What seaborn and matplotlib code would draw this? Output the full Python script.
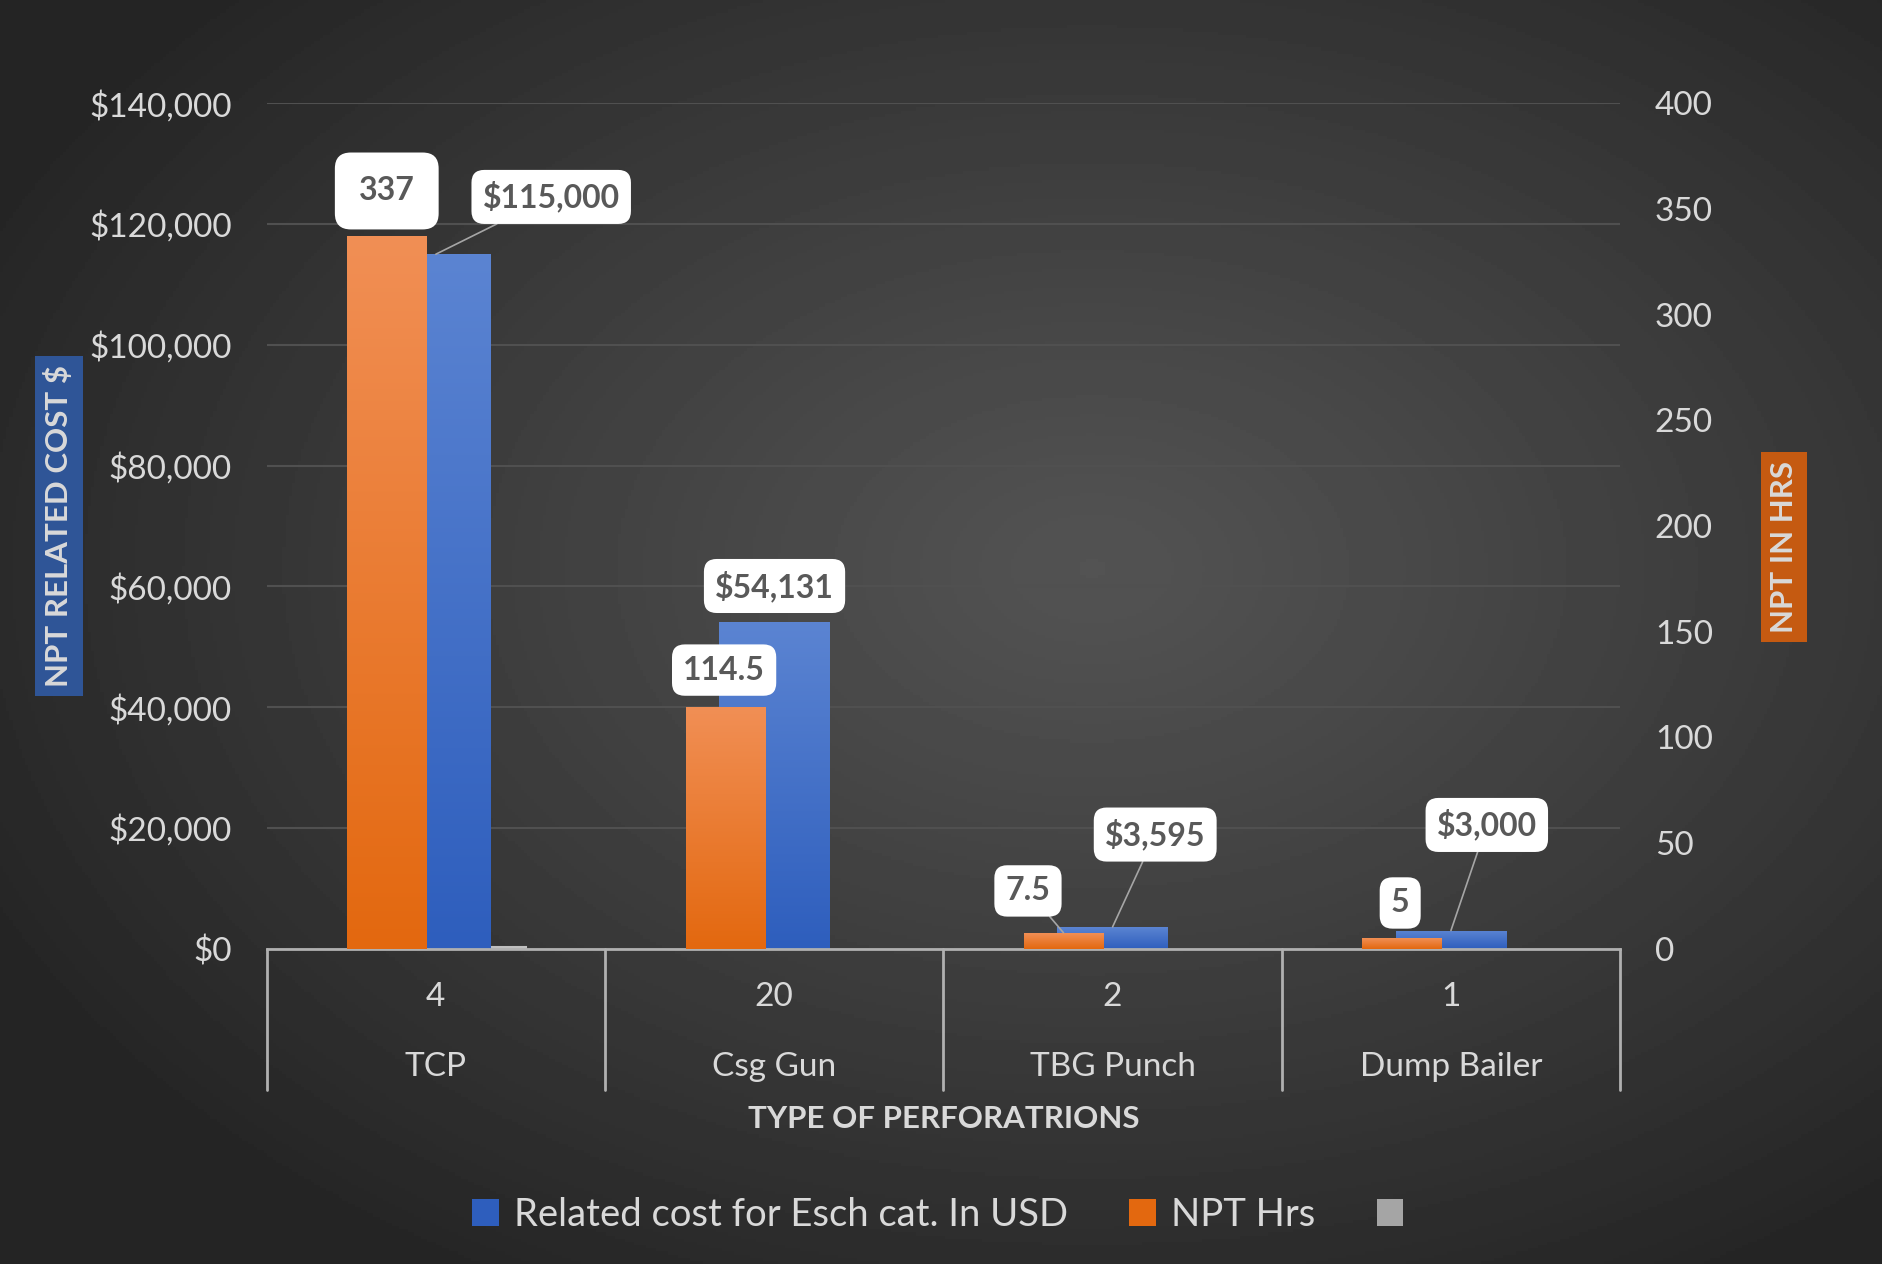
import numpy as np
import matplotlib
matplotlib.use("Agg")
import matplotlib.pyplot as plt
import matplotlib.transforms as mtransforms
from matplotlib.colors import LinearSegmentedColormap
from matplotlib.patches import Patch
import seaborn as sns

# data
categories = ["TCP", "Csg Gun", "TBG Punch", "Dump Bailer"]
counts = ["4", "20", "2", "1"]
cost_usd = [115000, 54131, 3595, 3000]
npt_hrs = [337, 114.5, 7.5, 5]
third_vals = [300, 0, 0, 0]

cost_ticks = list(range(0, 140001, 20000))
hrs_ticks = list(range(0, 401, 50))

# label placement (x in category units, y in the series' own units)
hrs_label_xy = [(-0.145, 358.5), (0.852, 131.8), (1.75, 27.3), (2.85, 21.6)]
cost_label_xy = [(0.341, 124489), (1.001, 60057), (2.126, 18892), (3.106, 20483)]
hrs_leader = [False, False, True, False]
cost_leader = [True, False, True, True]

BLUE_TOP, BLUE_BOT = "#5b84d2", "#2e5ebd"
ORG_TOP, ORG_BOT = "#f18f55", "#e3680f"
GRAY = "#a5a5a5"
TXT = "#d9d9d9"

sns.set_theme(style="dark")
plt.rcParams["font.family"] = ["Lato", "DejaVu Sans"]

fig = plt.figure(figsize=(18.83, 12.64), dpi=100)

# radial background
bg = fig.add_axes([0, 0, 1, 1], zorder=-10)
yy, xx = np.mgrid[0:1:400j, 0:1:600j]
d = np.sqrt(((xx - 0.58) / 0.65) ** 2 + ((yy - 0.45) / 0.65) ** 2)
val = 0x53 - (0x53 - 0x25) * np.clip(d, 0, 1) ** 1.1
bg.imshow(val, cmap="gray", vmin=0, vmax=255, extent=(0, 1, 0, 1), aspect="auto", origin="upper")
bg.axis("off")

ax = fig.add_axes([0.1416, 0.2495, 0.7188, 0.6688])
ax.patch.set_alpha(0)


def fill_gradient(a, bar, top, bottom):
    x0, y0 = bar.get_x(), bar.get_y()
    w, h = bar.get_width(), bar.get_height()
    if h <= 0:
        return
    cmap = LinearSegmentedColormap.from_list("g", [bottom, top])
    grad = np.linspace(0, 1, 256).reshape(-1, 1)
    im = a.imshow(grad, cmap=cmap, extent=(x0, x0 + w, y0, y0 + h), origin="lower",
                  aspect="auto", zorder=bar.get_zorder() + 0.1)
    im.set_clip_path(bar)


# third (grey) series behind
sns.barplot(x=categories, y=third_vals, ax=ax, width=0.234, color=GRAY, linewidth=0, zorder=1)
gray_bars = list(ax.patches)
for p in gray_bars:
    p.set_x(p.get_x() + 0.149)
    p.set_edgecolor("#bfbfbf")
    p.set_linewidth(1.5 if p.get_height() > 0 else 0)

sns.barplot(x=categories, y=cost_usd, ax=ax, width=0.327, color=BLUE_BOT, linewidth=0, zorder=2)
blue_bars = [p for p in ax.patches if p not in gray_bars]
for p in blue_bars:
    fill_gradient(ax, p, BLUE_TOP, BLUE_BOT)

ax2 = ax.twinx()
sns.barplot(x=categories, y=npt_hrs, ax=ax2, width=0.234, color=ORG_BOT, linewidth=0, zorder=2)
orange_bars = list(ax2.patches)
for p in orange_bars:
    p.set_x(p.get_x() - 0.145)
    fill_gradient(ax2, p, ORG_TOP, ORG_BOT)

ax.set_xlim(-0.5, 3.5)
ax.set_ylim(0, 140000)
ax2.set_ylim(0, 400)
ax.set_yticks(cost_ticks)
ax.set_yticklabels([f"${v:,.0f}" for v in cost_ticks])
ax2.set_yticks(hrs_ticks)
ax2.set_yticklabels([str(v) for v in hrs_ticks])
ax.set_xlabel("")
ax.set_ylabel("")
ax2.set_ylabel("")
ax.tick_params(axis="x", length=0, labelbottom=False)
ax.tick_params(axis="y", length=0, labelsize=24, labelcolor=TXT, pad=25)
ax2.tick_params(axis="y", length=0, labelsize=24, labelcolor=TXT, pad=25)
ax.grid(axis="y", color="#505050", lw=1.5)
ax.grid(axis="x", visible=False)
ax2.grid(False)
ax.set_axisbelow(True)
for a in (ax, ax2):
    for s in a.spines.values():
        s.set_visible(False)
ax.spines["bottom"].set_visible(True)
ax.spines["bottom"].set_color("#b0b0b0")
ax.spines["bottom"].set_linewidth(2)
ax.spines["bottom"].set_zorder(5)

# multi-level category axis
trans = mtransforms.blended_transform_factory(ax.transData, ax.transAxes)
for b in np.arange(-0.5, len(categories), 1.0):
    ax.plot([b, b], [0, -0.1676], transform=trans, color="#b0b0b0", lw=2, clip_on=False)
for i, (c, n) in enumerate(zip(categories, counts)):
    ax.text(i, -0.0568, n, transform=trans, ha="center", va="center", fontsize=24, color=TXT)
    ax.text(i, -0.1406, c, transform=trans, ha="center", va="center", fontsize=24, color=TXT)
ax.text(1.5, -0.2017, "TYPE OF PERFORATRIONS", transform=trans, ha="center", va="center",
        fontsize=22.5, fontweight="bold", color=TXT)

# axis titles in coloured boxes
fig.text(59 / 1883, 1 - 526 / 1264, "NPT RELATED COST $", rotation=90, ha="center", va="center",
         fontsize=22.5, fontweight="bold", color=TXT,
         bbox=dict(boxstyle="square,pad=0.3", fc="#2f5597", ec="none"))
fig.text(1784 / 1883, 1 - 547 / 1264, "NPT IN HRS", rotation=90, ha="center", va="center",
         fontsize=22.5, fontweight="bold", color=TXT,
         bbox=dict(boxstyle="square,pad=0.3", fc="#c55a11", ec="none"))

# data labels
box = dict(boxstyle="round,pad=0.35,rounding_size=0.4", fc="white", ec="none")
big_box = dict(boxstyle="round,pad=0.75,rounding_size=0.5", fc="white", ec="none")
for i, (v, (lx, ly), lead) in enumerate(zip(npt_hrs, hrs_label_xy, hrs_leader)):
    bx = orange_bars[i].get_x() + orange_bars[i].get_width() / 2
    ax2.annotate(f"{v:g}", xy=(bx, v), xycoords=ax2.transData, xytext=(lx, ly),
                 textcoords=ax2.transData, ha="center", va="center", fontsize=23,
                 fontweight="bold", color="#595959", zorder=10,
                 bbox=big_box if i == 0 else box,
                 arrowprops=dict(arrowstyle="-", color="#a6a6a6", lw=1.2, shrinkA=0, shrinkB=0) if lead else None)
for i, (v, (lx, ly), lead) in enumerate(zip(cost_usd, cost_label_xy, cost_leader)):
    ax2.annotate(f"${v:,.0f}", xy=(i, v), xycoords=ax.transData, xytext=(lx, ly),
                 textcoords=ax.transData, ha="center", va="center", fontsize=23,
                 fontweight="bold", color="#595959", zorder=10, bbox=box,
                 arrowprops=dict(arrowstyle="-", color="#a6a6a6", lw=1.2, shrinkA=0, shrinkB=0) if lead else None)

# legend
handles = [Patch(fc=BLUE_BOT, ec="none"), Patch(fc=ORG_BOT, ec="none"), Patch(fc=GRAY, ec="none")]
labels = ["Related cost for Esch cat. In USD", "NPT Hrs", ""]
fig.legend(handles, labels, loc="center", bbox_to_anchor=(0.502, 1 - 1215 / 1264), ncol=3,
           frameon=False, fontsize=27.5, labelcolor=TXT, handlelength=0.7, handleheight=0.7,
           handletextpad=0.4, columnspacing=1.6)

fig.savefig("out.png", dpi=100)
